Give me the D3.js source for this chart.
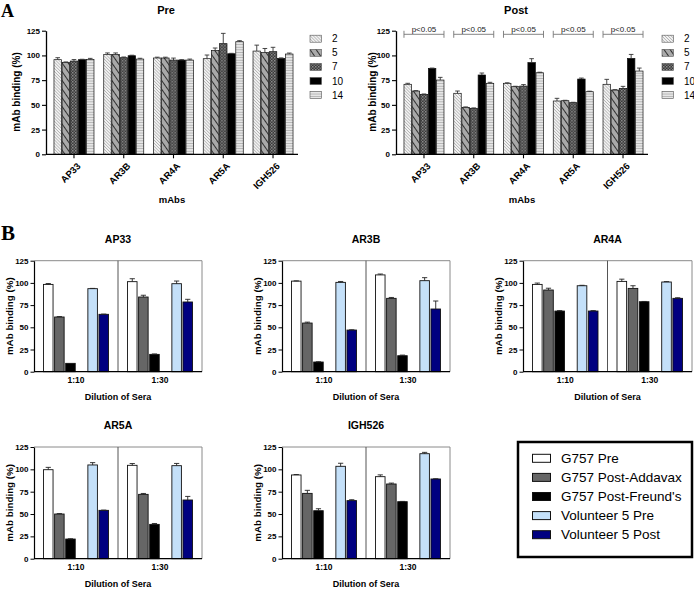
<!DOCTYPE html>
<html><head><meta charset="utf-8">
<script src="https://cdn.jsdelivr.net/npm/d3@7"></script>
<style>
body{margin:0;background:#fff}
svg{display:block}
text{font-family:"Liberation Sans",Arial,sans-serif}
</style>
</head><body>
<svg id="c" width="694" height="589"></svg>
<script>
// ---------- DATA ----------
const mAbs = ["AP33", "AR3B", "AR4A", "AR5A", "IGH526"];
const dayKeys = ["2", "5", "7", "10", "14"];
const preValues = [
  [95.7, 93.0, 94.3, 95.7, 96.0],
  [101.0, 101.0, 97.7, 99.7, 96.3],
  [97.4, 97.4, 95.3, 95.3, 95.3],
  [96.7, 105.0, 111.9, 101.7, 113.9],
  [104.4, 103.0, 103.8, 97.0, 101.4]
];
const preErrors = [
  [2, 0.4, 1.5, 0.4, 1],
  [1.5, 1.5, 0.7, 0.5, 0.8],
  [0.8, 0.8, 2, 0.4, 1],
  [3.7, 2.5, 10.4, 0.4, 1],
  [6, 4, 4.4, 0.5, 1]
];
const postValues = [
  [70.8, 64.0, 60.6, 86.9, 75.1],
  [61.7, 47.5, 46.5, 80.2, 71.8],
  [71.8, 68.4, 69.0, 92.7, 82.5],
  [53.9, 54.2, 52.2, 76.1, 63.3],
  [70.8, 65.0, 66.7, 97.0, 84.2]
];
const postErrors = [
  [1, 0.4, 0.4, 0.3, 2.7],
  [2.3, 0.4, 0.4, 2, 1],
  [0.5, 0.4, 1.5, 4, 0.5],
  [2.7, 0.4, 0.4, 1, 0.5],
  [5, 0.4, 2, 4, 3]
];
const sigLabels = ["p<0.05", "p<0.05", "p<0.05", "p<0.05", "p<0.05"];
const yTicksA = [0, 25, 50, 75, 100, 125];

const sera = ["G757 Pre", "G757 Post-Addavax", "G757 Post-Freund's", "Volunteer 5 Pre", "Volunteer 5 Post"];
const seraColors = ["#ffffff", "#666666", "#000000", "#c4e0f9", "#000080"];
const dilutions = ["1:10", "1:30"];
const bPanels = ["AP33", "AR3B", "AR4A", "AR5A", "IGH526"];
// [panel][dilution][serum]
const bValues = [
  [[98.3, 61.6, 9.4, 93.5, 64.6], [101.4, 84.1, 19.5, 99.1, 78.5]],
  [[102.0, 54.8, 10.9, 100.6, 46.9], [109.0, 82.6, 18.0, 102.5, 70.6]],
  [[98.3, 92.0, 68.3, 96.8, 68.3], [101.7, 93.8, 78.8, 101.0, 82.6]],
  [[99.6, 50.0, 22.0, 104.9, 54.1], [104.5, 72.0, 38.4, 104.1, 65.7]],
  [[93.7, 73.1, 53.7, 103.4, 65.0], [91.8, 83.6, 63.8, 117.5, 89.2]]
];
const bErrors = [
  [[1, 0.5, 0, 0.3, 0.3], [3.3, 2, 0.5, 3, 3]],
  [[0.3, 1, 0.3, 1, 0.3], [1, 1, 0.7, 3.4, 9]],
  [[1.5, 2, 0.5, 0.5, 0.5], [2.5, 3, 0.3, 0.5, 0.7]],
  [[2.6, 0.5, 0.3, 2.6, 0.3], [2, 1, 1, 2.5, 4]],
  [[0.5, 3.4, 2.2, 3.4, 1], [2, 1, 0.3, 1.5, 0.3]]
];
const yTicksB = [0, 25, 50, 75, 100, 125];

// ---------- SETUP ----------
const svg = d3.select("#c");
const defs = svg.append("defs");

function linePattern(id, w, angle, bg, color, sw) {
  const p = defs.append("pattern").attr("id", id).attr("patternUnits", "userSpaceOnUse")
    .attr("width", w).attr("height", w).attr("patternTransform", `rotate(${angle})`);
  p.append("rect").attr("width", w).attr("height", w).attr("fill", bg);
  p.append("line").attr("x1", 0).attr("y1", 0).attr("x2", 0).attr("y2", w)
    .attr("stroke", color).attr("stroke-width", sw);
}
linePattern("p2", 2.2, -45, "#f2f2f2", "#8c8c8c", 0.9);
linePattern("p5", 5, -35, "#a9a9a9", "#111", 1.6);
(function () {
  const p = defs.append("pattern").attr("id", "p7").attr("patternUnits", "userSpaceOnUse")
    .attr("width", 3).attr("height", 3);
  p.append("rect").attr("width", 3).attr("height", 3).attr("fill", "#3a3a3a");
  p.append("rect").attr("width", 1.5).attr("height", 1.5).attr("fill", "#8a8a8a");
  p.append("rect").attr("x", 1.5).attr("y", 1.5).attr("width", 1.5).attr("height", 1.5).attr("fill", "#707070");
})();
linePattern("p14", 2.6, 90, "#e6e6e6", "#8a8a8a", 1.0);
const dayFills = ["url(#p2)", "url(#p5)", "url(#p7)", "#000", "url(#p14)"];

// Panel letters
svg.append("text").attr("x", 1).attr("y", 17).text("A")
  .style("font-family", "'Liberation Serif','Times New Roman',serif").style("font-weight", "bold").style("font-size", "18px");
svg.append("text").attr("x", 1).attr("y", 240).text("B")
  .style("font-family", "'Liberation Serif','Times New Roman',serif").style("font-weight", "bold").style("font-size", "21px");

// ---------- PANEL A ----------
function panelA(ox, title, values, errors, withSig, ylabX, legX) {
  const x0 = ox, x1 = ox + 252;
  const g = svg.append("g");
  const y = d3.scaleLinear().domain([0, 125]).range([154.3, 30.7]);
  const xg = d3.scaleBand().domain(mAbs).range([x0 + 3, x1]).paddingInner(0.196).paddingOuter(0.1);
  const xb = d3.scaleBand().domain(dayKeys).range([0, xg.bandwidth()]).paddingInner(0.08);

  // bars
  mAbs.forEach((m, i) => {
    const gg = g.append("g").attr("transform", `translate(${xg(m)},0)`);
    gg.selectAll("rect").data(values[i]).join("rect")
      .attr("x", (d, j) => xb(dayKeys[j])).attr("width", xb.bandwidth())
      .attr("y", d => y(d)).attr("height", d => y(0) - y(d))
      .attr("fill", (d, j) => dayFills[j]).attr("stroke", "#111").attr("stroke-width", 0.7);
    // error bars
    values[i].forEach((v, j) => {
      const cx = xb(dayKeys[j]) + xb.bandwidth() / 2;
      const top = y(v + errors[i][j]);
      gg.append("line").attr("x1", cx).attr("x2", cx).attr("y1", y(v)).attr("y2", top)
        .attr("stroke", "#333").attr("stroke-width", 0.9);
      gg.append("line").attr("x1", cx - 2.3).attr("x2", cx + 2.3).attr("y1", top).attr("y2", top)
        .attr("stroke", "#333").attr("stroke-width", 0.9);
    });
    if (withSig) {
      const bx0 = xg(m), bx1 = xg(m) + xg.bandwidth(), by = 34.3;
      const sg = g.append("g").attr("stroke", "#777").attr("stroke-width", 0.9);
      sg.append("line").attr("x1", bx0).attr("x2", bx1).attr("y1", by).attr("y2", by);
      sg.append("line").attr("x1", bx0).attr("x2", bx0).attr("y1", by - 3.5).attr("y2", by + 3.5);
      sg.append("line").attr("x1", bx1).attr("x2", bx1).attr("y1", by - 3.5).attr("y2", by + 3.5);
      g.append("text").attr("x", (bx0 + bx1) / 2).attr("y", 31.5).attr("text-anchor", "middle")
        .style("font-size", "8px").attr("fill", "#222").text(sigLabels[i]);
    }
  });

  // y axis
  const ya = g.append("g").attr("transform", `translate(${x0},0)`)
    .call(d3.axisLeft(y).tickValues(yTicksA).tickSize(4).tickSizeOuter(0).tickPadding(2));
  ya.select(".domain").attr("stroke-width", 1.3);
  ya.selectAll(".tick line").attr("stroke-width", 1.1);
  ya.selectAll("text").style("font-size", "8px").style("font-weight", "bold").attr("fill", "#000")
    .style("font-family", "'Liberation Sans',Arial,sans-serif");

  // x axis
  g.append("line").attr("x1", x0).attr("x2", x1).attr("y1", y(0)).attr("y2", y(0))
    .attr("stroke", "#000").attr("stroke-width", 1.3);
  mAbs.forEach(m => {
    const cx = xg(m) + xg.bandwidth() / 2;
    g.append("line").attr("x1", cx).attr("x2", cx).attr("y1", y(0)).attr("y2", y(0) + 4)
      .attr("stroke", "#000").attr("stroke-width", 1.1);
    g.append("text").attr("transform", `translate(${cx + 5},${y(0) + 10}) rotate(-45)`)
      .attr("text-anchor", "end").attr("dy", "0.35em")
      .style("font-size", "9.5px").style("font-weight", "bold").text(m);
  });

  // titles
  const xc = (x0 + x1) / 2;
  g.append("text").attr("x", xc - 6).attr("y", 14).attr("text-anchor", "middle")
    .style("font-size", "11px").style("font-weight", "bold").text(title);
  g.append("text").attr("x", xc).attr("y", 203).attr("text-anchor", "middle")
    .style("font-size", "9.5px").style("font-weight", "bold").text("mAbs");
  g.append("text").attr("transform", `translate(${ylabX},92) rotate(-90)`).attr("text-anchor", "middle")
    .attr("dy", "0.35em").style("font-size", "10px").style("font-weight", "bold").text("mAb binding (%)");

  // legend
  dayKeys.forEach((k, j) => {
    const ly = 38.7 + j * 14.1;
    g.append("rect").attr("x", legX).attr("y", ly - 3.5).attr("width", 11.5).attr("height", 7)
      .attr("fill", dayFills[j]).attr("stroke", "#555").attr("stroke-width", 0.6);
    g.append("text").attr("x", legX + 22).attr("y", ly).attr("dy", "0.35em")
      .style("font-size", "10px").text(k);
  });
}
panelA(46, "Pre", preValues, preErrors, false, 16, 310);
panelA(396, "Post", postValues, postErrors, true, 372.5, 662);

// ---------- PANEL B ----------
const bBoxes = [
  [34, 202, 260.7, 371.7], [282, 450, 260.7, 371.7], [523, 692, 260.7, 371.7],
  [34, 202, 447, 558.7], [282, 450, 447, 558.7]
];
const slotIndex = [0, 1, 2, 4, 5];

bPanels.forEach((name, pi) => {
  const [bx0, bx1, yTop, yBot] = bBoxes[pi];
  const g = svg.append("g");
  const y = d3.scaleLinear().domain([0, 125]).range([yBot, yTop]);
  const xd = d3.scaleBand().domain(dilutions).range([bx0, bx1]);

  // frame (top, right, divider)
  g.append("line").attr("x1", bx0).attr("x2", bx1).attr("y1", yTop).attr("y2", yTop).attr("stroke", "#8a8a8a").attr("stroke-width", 1);
  g.append("line").attr("x1", bx1).attr("x2", bx1).attr("y1", yTop).attr("y2", yBot).attr("stroke", "#8a8a8a").attr("stroke-width", 1);
  g.append("line").attr("x1", xd("1:30")).attr("x2", xd("1:30")).attr("y1", yTop).attr("y2", yBot).attr("stroke", "#555").attr("stroke-width", 1);

  dilutions.forEach((dl, di) => {
    const hx0 = xd(dl), hx1 = hx0 + xd.bandwidth();
    const xs = d3.scaleBand().domain(d3.range(6)).range([hx0 + 9.5, hx1 - 9.5]).paddingInner(0.14);
    bValues[pi][di].forEach((v, si) => {
      const bx = xs(slotIndex[si]);
      g.append("rect").attr("x", bx).attr("width", xs.bandwidth()).attr("y", y(v)).attr("height", y(0) - y(v))
        .attr("fill", seraColors[si]).attr("stroke", "#111").attr("stroke-width", 0.9);
      const e = bErrors[pi][di][si];
      if (e > 0) {
        const cx = bx + xs.bandwidth() / 2, top = y(v + e);
        g.append("line").attr("x1", cx).attr("x2", cx).attr("y1", y(v)).attr("y2", top).attr("stroke", "#222").attr("stroke-width", 0.9);
        g.append("line").attr("x1", cx - 2.6).attr("x2", cx + 2.6).attr("y1", top).attr("y2", top).attr("stroke", "#222").attr("stroke-width", 0.9);
      }
    });
    g.append("text").attr("x", (hx0 + hx1) / 2).attr("y", yBot + 11).attr("text-anchor", "middle")
      .style("font-size", "8.5px").style("font-weight", "bold").text(dl);
  });

  // axes
  const ya = g.append("g").attr("transform", `translate(${bx0},0)`)
    .call(d3.axisLeft(y).tickValues(yTicksB).tickSize(3.5).tickSizeOuter(0).tickPadding(2));
  ya.select(".domain").attr("stroke-width", 1.2);
  ya.selectAll("text").style("font-size", "8px").style("font-weight", "bold").attr("fill", "#000")
    .style("font-family", "'Liberation Sans',Arial,sans-serif");
  g.append("line").attr("x1", bx0).attr("x2", bx1).attr("y1", yBot).attr("y2", yBot).attr("stroke", "#000").attr("stroke-width", 1.3);

  const xc = (bx0 + bx1) / 2;
  g.append("text").attr("x", xc).attr("y", yTop - 17.7).attr("text-anchor", "middle")
    .style("font-size", "10.5px").style("font-weight", "bold").text(name);
  g.append("text").attr("x", xc).attr("y", yBot + 28.5).attr("text-anchor", "middle")
    .style("font-size", "9px").style("font-weight", "bold").text("Dilution of Sera");
  g.append("text").attr("transform", `translate(${bx0 - 24},${(yTop + yBot) / 2}) rotate(-90)`)
    .attr("text-anchor", "middle").attr("dy", "0.35em")
    .style("font-size", "9.8px").style("font-weight", "bold").text("mAb binding (%)");
});

// legend B
const lg = svg.append("g");
lg.append("rect").attr("x", 518).attr("y", 442).attr("width", 174).attr("height", 115)
  .attr("fill", "#fff").attr("stroke", "#000").attr("stroke-width", 2.5);
sera.forEach((s, i) => {
  const ly = 458.3 + i * 19.1;
  lg.append("rect").attr("x", 532.5).attr("y", ly - 4).attr("width", 18).attr("height", 8)
    .attr("fill", seraColors[i]).attr("stroke", "#111").attr("stroke-width", 1);
  lg.append("text").attr("x", 561).attr("y", ly).attr("dy", "0.35em").style("font-size", "13.5px").text(s);
});
</script>
</body></html>
